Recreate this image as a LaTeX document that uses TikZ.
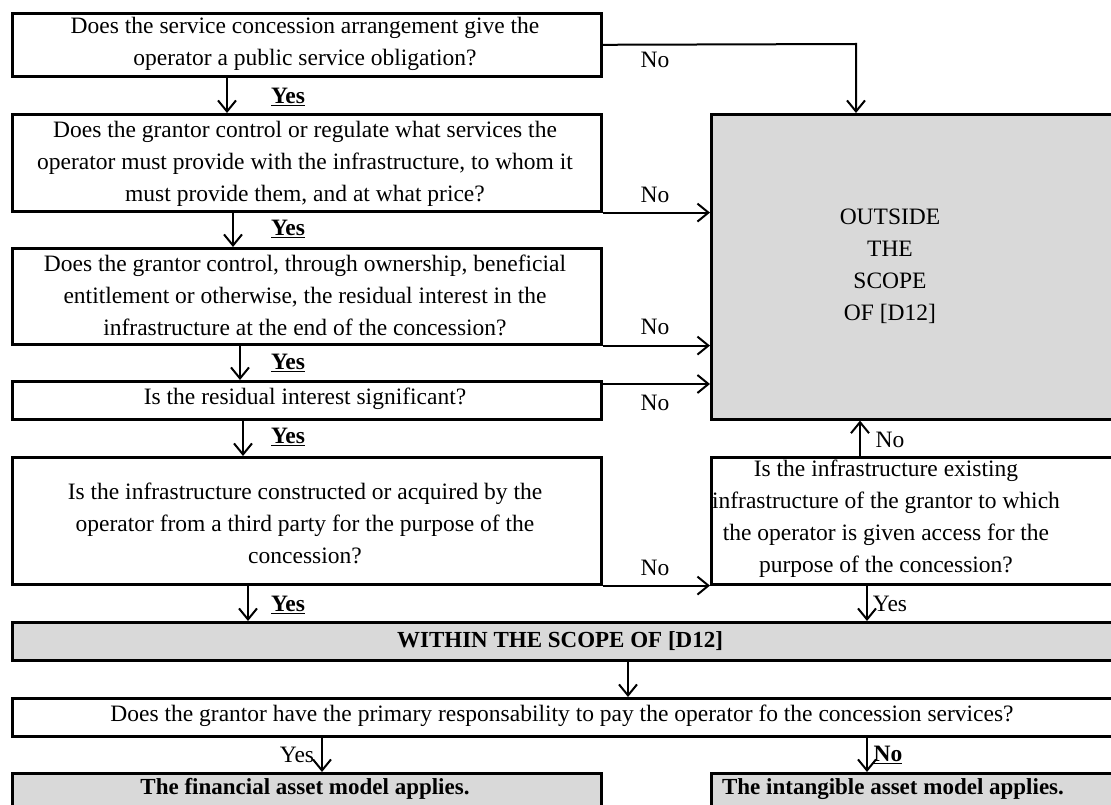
\documentclass[tikz,border=0pt]{standalone}
\usepackage{fontspec}
\setmainfont{Liberation Serif}
\usetikzlibrary{arrows.meta}
\definecolor{boxgray}{HTML}{D9D9D9}
\newcommand\bodyfont{\fontsize{23.5}{32}\selectfont}
\newcommand\boldfont{\fontsize{23}{32}\selectfont\bfseries}
\begin{document}
\begin{tikzpicture}[x=1pt,y=-1pt,
  qbox/.style={draw, line width=2.6pt, anchor=north west, inner sep=0pt},
  gbox/.style={qbox, fill=boxgray},
  txt/.style={align=center, font=\bodyfont, inner sep=0pt},
  btxt/.style={align=center, font=\boldfont, inner sep=0pt},
  lbl/.style={font=\bodyfont, inner sep=0pt},
  arr/.style={line width=2pt, -{Straight Barb[length=11pt,width=18pt,line width=2pt]}},
]
\useasboundingbox (0,0) rectangle (1111,805);
\clip (0,0) rectangle (1111,805);

% boxes
\node[qbox, minimum width=589pt, minimum height=63pt] (q1) at (11,12) {};
\node[qbox, minimum width=589pt, minimum height=97pt] (q2) at (11,113) {};
\node[qbox, minimum width=589pt, minimum height=96pt] (q3) at (11,247) {};
\node[qbox, minimum width=589pt, minimum height=38pt] (q4) at (11,380) {};
\node[qbox, minimum width=589pt, minimum height=127pt] (q5) at (11,456) {};
\node[gbox, minimum width=430pt, minimum height=305pt] (out) at (710,113) {};
\node[qbox, minimum width=430pt, minimum height=127pt] (q6) at (710,456) {};
\node[gbox, minimum width=1130pt, minimum height=38pt] (within) at (11,621) {};
\node[qbox, minimum width=1130pt, minimum height=38pt] (pay) at (11,697) {};
\node[gbox, minimum width=589pt, minimum height=60pt] (fin) at (11,772) {};
\node[gbox, minimum width=430pt, minimum height=60pt] (intan) at (710,772) {};

% texts
\node[txt] at (305,44) {Does the service concession arrangement give the\\operator a public service obligation?};
\node[txt] at (305,164) {Does the grantor control or regulate what services the\\operator must provide with the infrastructure, to whom it\\must provide them, and at what price?};
\node[txt] at (305,295) {Does the grantor control, through ownership, beneficial\\entitlement or otherwise, the residual interest in the\\infrastructure at the end of the concession?};
\node[txt] at (305,399) {Is the residual interest significant?};
\node[txt] at (305,523) {Is the infrastructure constructed or acquired by the\\operator from a third party for the purpose of the\\concession?};
\node[txt] at (890,266) {OUTSIDE\\THE\\SCOPE\\OF [D12]};
\node[txt] at (886,519) {Is the infrastructure existing\\infrastructure of the grantor to which\\the operator is given access for the\\purpose of the concession?};
\node[btxt] at (560,641) {WITHIN THE SCOPE OF [D12]};
\node[txt] at (562,716) {Does the grantor have the primary responsability to pay the operator fo the concession services?};
\node[btxt] at (305,789) {The financial asset model applies.};
\node[btxt] at (893,789) {The intangible asset model applies.};

% connectors
\coordinate (c1) at (856,44);
\draw[arr] (q1.east) -- (c1) -- (c1 |- out.north);
\draw[arr] (q2.south east) -- (q2.south east -| out.west);
\draw[arr] (q3.south east) -- (q3.south east -| out.west);
\draw[arr] ([yshift=-4pt]q4.north east) -- ([yshift=-4pt]q4.north east -| out.west);
\draw[arr] (q5.south east) -- (q6.south west);
\coordinate (c6) at (860,456);
\draw[arr] (c6) -- (c6 |- out.south);

\coordinate (y1) at (227,0);
\draw[arr] (y1 |- q1.south) -- (y1 |- q2.north);
\coordinate (y2) at (233,0);
\draw[arr] (y2 |- q2.south) -- (y2 |- q3.north);
\coordinate (y3) at (240,0);
\draw[arr] (y3 |- q3.south) -- (y3 |- q4.north);
\coordinate (y4) at (243,0);
\draw[arr] (y4 |- q4.south) -- (y4 |- q5.north);
\coordinate (y5) at (248,0);
\draw[arr] (y5 |- q5.south) -- (y5 |- within.north);
\coordinate (y6) at (867,0);
\draw[arr] (y6 |- q6.south) -- (y6 |- within.north);
\coordinate (y7) at (628,0);
\draw[arr] (y7 |- within.south) -- (y7 |- pay.north);
\coordinate (y8) at (322,0);
\draw[arr] (y8 |- pay.south) -- (y8 |- fin.north);
\coordinate (y9) at (867,0);
\draw[arr] (y9 |- pay.south) -- (y9 |- intan.north);

% labels
\foreach \yy in {97,229,363,437,605}
  \node[lbl] at (288,\yy) {\underline{\textbf{Yes}}};
\foreach \yy in {60,195,327,403,568}
  \node[lbl] at (655,\yy) {No};
\node[lbl] at (890,440) {No};
\node[lbl] at (890,604) {Yes};
\node[lbl] at (297,755) {Yes};
\node[lbl] at (888,755) {\underline{\textbf{No}}};
\end{tikzpicture}
\end{document}
